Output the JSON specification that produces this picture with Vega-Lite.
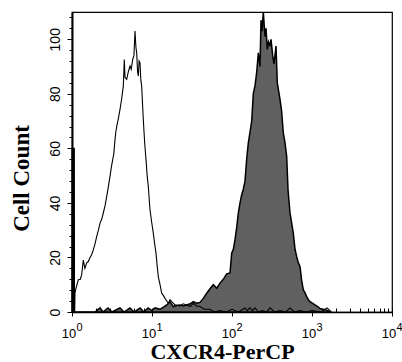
{
  "$schema": "https://vega.github.io/schema/vega-lite/v6.json",
  "width": 320,
  "height": 300,
  "autosize": "none",
  "padding": {"left": 72, "top": 12, "right": 10, "bottom": 50},
  "background": "white",
  "datasets": {
    "control": [
      {"fl": 1, "count": 0}, {"fl": 1.003, "count": 60}, {"fl": 1.03, "count": 60}, {"fl": 1.035, "count": 0},
      {"fl": 1.055, "count": 0}, {"fl": 1.06, "count": 60}, {"fl": 1.07, "count": 60}, {"fl": 1.075, "count": 0},
      {"fl": 1.08, "count": 0}, {"fl": 1.09, "count": 7},
      {"fl": 1.13, "count": 9}, {"fl": 1.2, "count": 11.8}, {"fl": 1.27, "count": 12}, {"fl": 1.32, "count": 13.6},
      {"fl": 1.385, "count": 19}, {"fl": 1.45, "count": 16}, {"fl": 1.527, "count": 18}, {"fl": 1.6, "count": 18.5},
      {"fl": 1.679, "count": 20}, {"fl": 1.76, "count": 21}, {"fl": 1.846, "count": 22.8}, {"fl": 1.94, "count": 25},
      {"fl": 2.036, "count": 27.7}, {"fl": 2.14, "count": 30}, {"fl": 2.239, "count": 32.6}, {"fl": 2.35, "count": 34},
      {"fl": 2.462, "count": 36.3}, {"fl": 2.59, "count": 39}, {"fl": 2.715, "count": 42.4}, {"fl": 2.85, "count": 46},
      {"fl": 2.985, "count": 49.7}, {"fl": 3.1, "count": 53}, {"fl": 3.227, "count": 55.9}, {"fl": 3.33, "count": 58},
      {"fl": 3.447, "count": 63.2}, {"fl": 3.53, "count": 66}, {"fl": 3.621, "count": 68}, {"fl": 3.8, "count": 71},
      {"fl": 3.981, "count": 74.3}, {"fl": 4.17, "count": 78}, {"fl": 4.378, "count": 82.8}, {"fl": 4.506, "count": 92.6},
      {"fl": 4.6, "count": 86}, {"fl": 4.828, "count": 85.3}, {"fl": 5.05, "count": 88}, {"fl": 5.309, "count": 90.2},
      {"fl": 5.5, "count": 89}, {"fl": 5.739, "count": 92.6}, {"fl": 5.95, "count": 94}, {"fl": 6.13, "count": 103},
      {"fl": 6.3, "count": 97}, {"fl": 6.438, "count": 95}, {"fl": 6.6, "count": 88}, {"fl": 6.743, "count": 86.5},
      {"fl": 6.9, "count": 92}, {"fl": 7.079, "count": 91.4}, {"fl": 7.25, "count": 85}, {"fl": 7.433, "count": 82.8},
      {"fl": 7.785, "count": 70.6}, {"fl": 8.1, "count": 62}, {"fl": 8.414, "count": 55.9}, {"fl": 8.7, "count": 50},
      {"fl": 8.992, "count": 46}, {"fl": 9.441, "count": 37.5}, {"fl": 9.9, "count": 33}, {"fl": 10.38, "count": 28.9},
      {"fl": 10.8, "count": 25}, {"fl": 11.22, "count": 21.6}, {"fl": 11.6, "count": 17}, {"fl": 11.99, "count": 13},
      {"fl": 12.6, "count": 10}, {"fl": 13.22, "count": 6.9}, {"fl": 13.9, "count": 6}, {"fl": 14.54, "count": 5},
      {"fl": 15.99, "count": 3.2}, {"fl": 16.8, "count": 4.5}, {"fl": 17.63, "count": 3.8}, {"fl": 19.39, "count": 2.6},
      {"fl": 22.39, "count": 2.2}, {"fl": 24.5, "count": 3}, {"fl": 27.15, "count": 2.6}, {"fl": 30, "count": 2},
      {"fl": 32.84, "count": 3.2}, {"fl": 36, "count": 2.2}, {"fl": 39.81, "count": 2}, {"fl": 45, "count": 1},
      {"fl": 53.09, "count": 1}, {"fl": 60, "count": 0}, {"fl": 70.79, "count": 0.5}, {"fl": 85, "count": 0},
      {"fl": 100, "count": 1}, {"fl": 120, "count": 0}, {"fl": 145.4, "count": 1.5}, {"fl": 155, "count": 0.5},
      {"fl": 167.9, "count": 1.5}, {"fl": 180, "count": 0.5}, {"fl": 193.9, "count": 1.5}, {"fl": 215, "count": 0},
      {"fl": 237.1, "count": 0.5}, {"fl": 270, "count": 0}, {"fl": 298.5, "count": 1.5}, {"fl": 340, "count": 0},
      {"fl": 398.1, "count": 0.5}, {"fl": 470, "count": 0}, {"fl": 530.9, "count": 1.5}, {"fl": 600, "count": 0},
      {"fl": 707.9, "count": 0.5}, {"fl": 850, "count": 0}, {"fl": 1000, "count": 0.5}, {"fl": 1300, "count": 0},
      {"fl": 1539, "count": 1.5}, {"fl": 1750, "count": 0}
    ],
    "stained": [
      {"fl": 1, "count": 0}, {"fl": 1.939, "count": 0}, {"fl": 2.239, "count": 1.5}, {"fl": 2.441, "count": 0},
      {"fl": 2.818, "count": 1.5}, {"fl": 3.162, "count": 0}, {"fl": 3.981, "count": 1.5}, {"fl": 4.467, "count": 0},
      {"fl": 5.309, "count": 1.5}, {"fl": 5.957, "count": 0}, {"fl": 7.079, "count": 1.5}, {"fl": 7.943, "count": 0},
      {"fl": 8.913, "count": 1.5}, {"fl": 10, "count": 0.5}, {"fl": 10.9, "count": 1.5}, {"fl": 12.59, "count": 1},
      {"fl": 13.9, "count": 1.8}, {"fl": 15.27, "count": 2.6}, {"fl": 16.79, "count": 3.8}, {"fl": 18.46, "count": 2},
      {"fl": 20.3, "count": 2.4}, {"fl": 22.39, "count": 2.6}, {"fl": 24.6, "count": 2.2}, {"fl": 27.15, "count": 2.6},
      {"fl": 30, "count": 3}, {"fl": 32.84, "count": 3.8}, {"fl": 36.2, "count": 3.2}, {"fl": 39.81, "count": 3.5},
      {"fl": 43.79, "count": 5}, {"fl": 48.28, "count": 6.9}, {"fl": 53.09, "count": 8.5}, {"fl": 58.39, "count": 10},
      {"fl": 64.39, "count": 8.7}, {"fl": 70.79, "count": 10.6}, {"fl": 77.85, "count": 12}, {"fl": 85.86, "count": 14},
      {"fl": 94.41, "count": 14.3}, {"fl": 99.15, "count": 21.6}, {"fl": 104, "count": 23}, {"fl": 109, "count": 26.5},
      {"fl": 114.5, "count": 31}, {"fl": 119.9, "count": 36.3}, {"fl": 126, "count": 40}, {"fl": 132.2, "count": 43},
      {"fl": 138.5, "count": 45}, {"fl": 145.4, "count": 48}, {"fl": 152.5, "count": 56}, {"fl": 159.9, "count": 62},
      {"fl": 168, "count": 66}, {"fl": 176.3, "count": 70}, {"fl": 184.6, "count": 80}, {"fl": 193.9, "count": 83},
      {"fl": 203.7, "count": 88}, {"fl": 213.3, "count": 95}, {"fl": 223.9, "count": 90}, {"fl": 230.4, "count": 107},
      {"fl": 237.1, "count": 103}, {"fl": 246.3, "count": 110}, {"fl": 258.5, "count": 101}, {"fl": 266.1, "count": 104},
      {"fl": 276.2, "count": 96.3}, {"fl": 286, "count": 99}, {"fl": 298.5, "count": 97.5}, {"fl": 307.3, "count": 100},
      {"fl": 322.8, "count": 93.9}, {"fl": 335, "count": 91}, {"fl": 354.8, "count": 97.5}, {"fl": 368.4, "count": 84},
      {"fl": 398.1, "count": 78}, {"fl": 415.8, "count": 74}, {"fl": 437.8, "count": 65.7}, {"fl": 459.8, "count": 62},
      {"fl": 482.8, "count": 57}, {"fl": 501.2, "count": 45}, {"fl": 530.9, "count": 36.3}, {"fl": 554.3, "count": 33},
      {"fl": 583.9, "count": 28.9}, {"fl": 613.2, "count": 23}, {"fl": 643.9, "count": 20.3}, {"fl": 675, "count": 18},
      {"fl": 707.9, "count": 16.7}, {"fl": 739.2, "count": 12}, {"fl": 778.5, "count": 8.1}, {"fl": 820, "count": 7},
      {"fl": 858.6, "count": 5.6}, {"fl": 900, "count": 4.5}, {"fl": 944.1, "count": 3.8}, {"fl": 1090, "count": 2.6},
      {"fl": 1180, "count": 2}, {"fl": 1259, "count": 1.3}, {"fl": 1527, "count": 0.7}, {"fl": 1679, "count": 0}
    ]
  },
  "resolve": {"axis": {"x": "independent", "y": "independent"}},
  "layer": [
    {
      "data": {"name": "stained"},
      "mark": {"type": "area", "fill": "#606060", "stroke": "black", "strokeWidth": 1.5, "strokeJoin": "miter"},
      "encoding": {
        "x": {
          "field": "fl", "type": "quantitative",
          "scale": {"type": "log", "domain": [1, 10000], "nice": false},
          "axis": {
            "orient": "bottom",
            "values": [1, 10, 100, 1000, 10000],
            "labelExpr": "'10'",
            "tickSize": 4,
            "tickWidth": 1,
            "labelPadding": 21,
            "labelBaseline": "alphabetic",
            "labelOffset": -3.5,
            "labelFont": "Liberation Sans",
            "labelFontSize": 13,
            "labelFlush": false,
            "labelOverlap": false,
            "labelBound": false,
            "domainWidth": 1.5,
            "title": "CXCR4-PerCP",
            "titleFont": "Liberation Serif",
            "titleFontWeight": "bold",
            "titleFontSize": 22,
            "titleX": 150,
            "titleY": 46,
            "titleAlign": "center",
            "titleBaseline": "alphabetic"
          }
        },
        "y": {
          "field": "count", "type": "quantitative",
          "scale": {"domain": [0, 110], "nice": false, "zero": true},
          "axis": {
            "orient": "left",
            "values": [0, 20, 40, 60, 80, 100],
            "tickSize": 5,
            "tickWidth": 1,
            "labelAngle": 270,
            "labelAlign": "center",
            "labelBaseline": "alphabetic",
            "labelPadding": 8,
            "labelFont": "Liberation Sans",
            "labelFontSize": 14,
            "labelOverlap": false,
            "labelBound": false,
            "labelFlush": false,
            "domainWidth": 2,
            "title": "Cell Count",
            "titleFont": "Liberation Serif",
            "titleFontWeight": "bold",
            "titleFontSize": 23,
            "titleAngle": 270,
            "titleX": -44,
            "titleY": 166,
            "titleAlign": "center",
            "titleBaseline": "alphabetic"
          }
        }
      }
    },
    {
      "data": {"name": "control"},
      "mark": {"type": "line", "color": "black", "strokeWidth": 1.1},
      "encoding": {
        "x": {
          "field": "fl", "type": "quantitative",
          "scale": {"type": "log", "domain": [1, 10000], "nice": false},
          "axis": {
            "orient": "bottom",
            "values": [1, 2, 3, 4, 5, 6, 7, 8, 9, 10, 20, 30, 40, 50, 60, 70, 80, 90, 100, 200, 300, 400, 500, 600, 700, 800, 900, 1000, 2000, 3000, 4000, 5000, 6000, 7000, 8000, 9000, 10000],
            "tickSize": -4,
            "tickWidth": 1,
            "labels": false,
            "domain": false,
            "title": null
          }
        },
        "y": {
          "field": "count", "type": "quantitative",
          "scale": {"domain": [0, 110], "nice": false, "zero": true},
          "axis": {
            "orient": "left",
            "values": [0, 4, 8, 12, 16, 20, 24, 28, 32, 36, 40, 44, 48, 52, 56, 60, 64, 68, 72, 76, 80, 84, 88, 92, 96, 100, 104, 108],
            "tickSize": 3,
            "tickWidth": 1,
            "labels": false,
            "domain": false,
            "title": null
          }
        }
      }
    },
    {
      "data": {"name": "control"},
      "mark": {"type": "point", "opacity": 0},
      "encoding": {
        "x": {
          "field": "fl", "type": "quantitative",
          "scale": {"type": "log", "domain": [1, 10000], "nice": false},
          "axis": {
            "orient": "bottom",
            "values": [1, 10, 100, 1000, 10000],
            "labelExpr": "format(round(log(datum.value)/LN10), 'd')",
            "ticks": false,
            "domain": false,
            "labelPadding": 18,
            "labelBaseline": "alphabetic",
            "labelOffset": 7,
            "labelFont": "Liberation Sans",
            "labelFontSize": 11,
            "labelFlush": false,
            "labelOverlap": false,
            "labelBound": false,
            "title": null
          }
        }
      }
    }
  ],
  "config": {
    "view": {"stroke": "black", "strokeWidth": 1.2},
    "axis": {"grid": false, "domainColor": "black", "tickColor": "black", "labelColor": "black", "titleColor": "black"}
  }
}
